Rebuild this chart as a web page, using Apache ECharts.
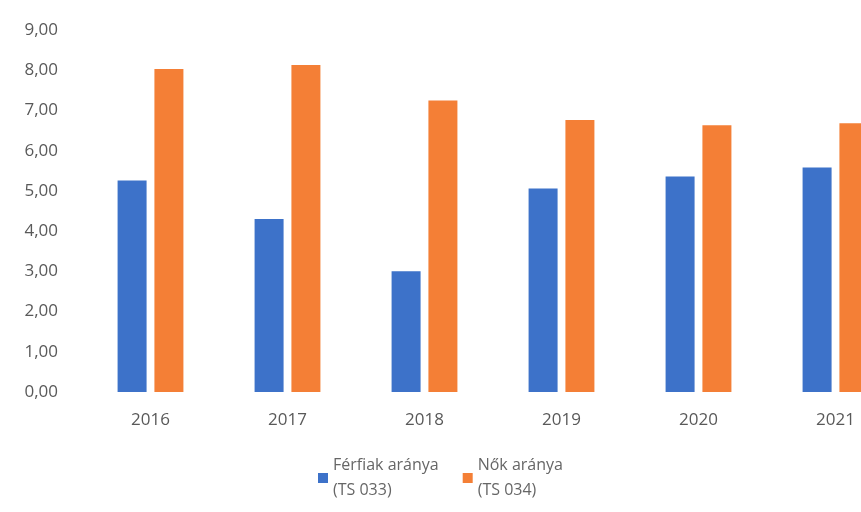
<!DOCTYPE html>
<html>
<head>
<meta charset="utf-8">
<script src="https://cdn.jsdelivr.net/npm/echarts@6/dist/echarts.min.js"></script>
<style>
  html, body { margin: 0; padding: 0; background: #fff; }
  #main { width: 861px; height: 512px; }
</style>
</head>
<body>
<div id="main"></div>
<script>
// adatok
var years = ['2016', '2017', '2018', '2019', '2020', '2021'];
var ferfiak = [5.26, 4.30, 3.00, 5.06, 5.36, 5.58];
var nok = [8.03, 8.13, 7.25, 6.76, 6.63, 6.68];
var seriesNames = ['Férfiak aránya\n(TS 033)', 'Nők aránya\n(TS 034)'];

var myChart = echarts.init(document.getElementById('main'));

var option = {
    backgroundColor: '#fff',
    textStyle: { fontFamily: 'Open Sans' },
    color: ['#3d72c9', '#f47f36'],
    grid: {
        left: 82,
        width: 822,
        top: 30,
        bottom: 120,
        outerBoundsMode: 'none'
    },
    legend: {
        bottom: 4,
        left: 313,
        icon: 'rect',
        itemWidth: 10,
        itemHeight: 10,
        itemGap: 24,
        textStyle: { color: '#666', fontSize: 16, lineHeight: 25 },
        data: seriesNames
    },
    xAxis: {
        type: 'category',
        data: years,
        axisLine: { show: false },
        axisTick: { show: false },
        axisLabel: { color: '#595959', fontSize: 17, margin: 20 }
    },
    yAxis: {
        type: 'value',
        min: 0,
        max: 9,
        interval: 1,
        splitLine: { show: false },
        axisLabel: {
            color: '#595959',
            fontSize: 17,
            margin: 24,
            formatter: function (v) { return v.toFixed(2).replace('.', ','); }
        }
    },
    series: [
        {
            name: seriesNames[0],
            type: 'bar',
            barWidth: 29,
            barGap: '27%',
            data: ferfiak
        },
        {
            name: seriesNames[1],
            type: 'bar',
            barWidth: 29,
            data: nok
        }
    ]
};

myChart.setOption(option);
</script>
</body>
</html>
